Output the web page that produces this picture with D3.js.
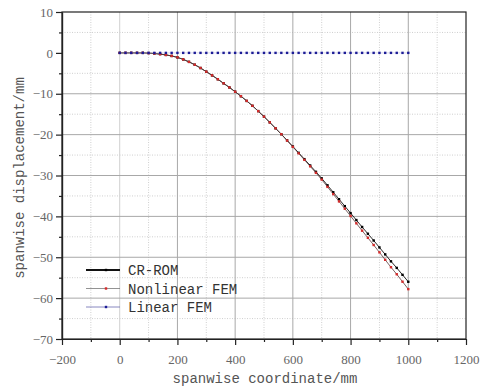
<!DOCTYPE html>
<html>
<head>
<meta charset="utf-8">
<script src="https://cdn.jsdelivr.net/npm/d3@7"></script>
<style>
  body { margin: 0; background: #fff; }
  svg { display: block; }
</style>
</head>
<body>
<div id="chart"></div>
<script>
// spanwise coordinate (mm), one node every 20 mm
var spanX = [0, 20, 40, 60, 80, 100, 120, 140, 160, 180,
    200, 220, 240, 260, 280, 300, 320, 340, 360, 380,
    400, 420, 440, 460, 480, 500, 520, 540, 560, 580,
    600, 620, 640, 660, 680, 700, 720, 740, 760, 780,
    800, 820, 840, 860, 880, 900, 920, 940, 960, 980, 1000];

// displacement (mm)
var crRom = [0, 0, 0, 0, 0, -0.05, -0.15, -0.3, -0.5, -0.75,
    -1.1, -1.6, -2.2, -2.9, -3.7, -4.6, -5.5, -6.45, -7.45, -8.45,
    -9.5, -10.6, -11.75, -12.95, -14.25, -15.6, -17.0, -18.45, -19.9, -21.4,
    -22.9, -24.45, -26.0, -27.55, -29.1, -30.7, -32.4, -34.1, -35.8, -37.5,
    -39.2, -40.9, -42.6, -44.25, -45.9, -47.6, -49.3, -51.0, -52.6, -54.3, -56.0];

var nonlinearFem = [0, 0, 0, 0, 0, -0.05, -0.15, -0.3, -0.5, -0.75,
    -1.1, -1.6, -2.2, -2.9, -3.7, -4.6, -5.5, -6.45, -7.45, -8.45,
    -9.5, -10.6, -11.75, -12.95, -14.25, -15.6, -17.0, -18.45, -19.9, -21.45,
    -23.0, -24.58, -26.17, -27.76, -29.35, -31.0, -32.78, -34.56, -36.34, -38.12,
    -39.9, -41.7, -43.5, -45.25, -47.0, -48.8, -50.62, -52.44, -54.16, -55.98, -57.8];

var linearFem = [0, 0, 0, 0, 0, 0, 0, 0, 0, 0,
    0, 0, 0, 0, 0, 0, 0, 0, 0, 0,
    0, 0, 0, 0, 0, 0, 0, 0, 0, 0,
    0, 0, 0, 0, 0, 0, 0, 0, 0, 0,
    0, 0, 0, 0, 0, 0, 0, 0, 0, 0, 0];

var seriesNames = ["CR-ROM", "Nonlinear FEM", "Linear FEM"];
var xMajorTicks = [-200, 0, 200, 400, 600, 800, 1000, 1200];
var xMinorTicks = [-100, 100, 300, 500, 700, 900, 1100];
var yMajorTicks = [10, 0, -10, -20, -30, -40, -50, -60, -70];
var yMinorTicks = [5, -5, -15, -25, -35, -45, -55, -65];

var serifFont = "'Liberation Serif', 'Times New Roman', serif";
var monoFont = "'Liberation Mono', 'Courier New', monospace";

var width = 483, height = 387;
var margin = {top: 12, right: 17, bottom: 48, left: 62};

var svg = d3.select("#chart").append("svg")
    .attr("width", width)
    .attr("height", height);

var x = d3.scaleLinear().domain([-200, 1200]).range([margin.left, width - margin.right]);
var y = d3.scaleLinear().domain([-70, 10]).range([height - margin.bottom, margin.top]);

var styles = [
    {line: "#111", lineWidth: 0.9, marker: "#000", legendLine: "#111", legendWidth: 2},
    {line: "#5a3a3a", lineWidth: 0.8, marker: "#d42a2a", legendLine: "#777", legendWidth: 0.8},
    {line: "#b8b8dc", lineWidth: 0.5, marker: "#1c1c96", legendLine: "#6a6ab0", legendWidth: 0.8}
];

// grid: dotted minor lines, solid major lines
var grid = svg.append("g").attr("class", "grid");
grid.selectAll(".vminor").data(xMinorTicks).enter().append("line")
    .attr("x1", function(d) { return x(d); }).attr("x2", function(d) { return x(d); })
    .attr("y1", y(10)).attr("y2", y(-70))
    .attr("stroke", "#cfcfcf").attr("stroke-width", 1).attr("stroke-dasharray", "1,1.5");
grid.selectAll(".hminor").data(yMinorTicks).enter().append("line")
    .attr("x1", x(-200)).attr("x2", x(1200))
    .attr("y1", function(d) { return y(d); }).attr("y2", function(d) { return y(d); })
    .attr("stroke", "#cfcfcf").attr("stroke-width", 1).attr("stroke-dasharray", "1,1.5");
grid.selectAll(".vmajor").data(xMajorTicks.slice(1, -1)).enter().append("line")
    .attr("x1", function(d) { return x(d); }).attr("x2", function(d) { return x(d); })
    .attr("y1", y(10)).attr("y2", y(-70))
    .attr("stroke", function(d) { return d === 0 ? "#d0d0d0" : "#a8a8a8"; })
    .attr("stroke-width", 1);
grid.selectAll(".hmajor").data(yMajorTicks.slice(2, -1)).enter().append("line")
    .attr("x1", x(-200)).attr("x2", x(1200))
    .attr("y1", function(d) { return y(d); }).attr("y2", function(d) { return y(d); })
    .attr("stroke", "#a8a8a8").attr("stroke-width", 1);

// frame
svg.append("rect")
    .attr("x", x(-200)).attr("y", y(10))
    .attr("width", x(1200) - x(-200)).attr("height", y(-70) - y(10))
    .attr("fill", "none").attr("stroke", "#222").attr("stroke-width", 1.2);

// axes
var fmt = d3.format("d");
var xAxis = svg.append("g")
    .attr("transform", "translate(0," + y(-70) + ")")
    .call(d3.axisBottom(x).tickValues(xMajorTicks).tickFormat(fmt).tickSize(6).tickPadding(10).tickSizeOuter(0));
var xAxisMinor = svg.append("g")
    .attr("transform", "translate(0," + y(-70) + ")")
    .call(d3.axisBottom(x).tickValues(xMinorTicks).tickSize(3).tickFormat("").tickSizeOuter(0));
var yAxis = svg.append("g")
    .attr("transform", "translate(" + x(-200) + ",0)")
    .call(d3.axisLeft(y).tickValues(yMajorTicks).tickFormat(fmt).tickSize(6).tickPadding(3).tickSizeOuter(0));
var yAxisMinor = svg.append("g")
    .attr("transform", "translate(" + x(-200) + ",0)")
    .call(d3.axisLeft(y).tickValues(yMinorTicks).tickSize(3).tickFormat("").tickSizeOuter(0));

[xAxis, xAxisMinor, yAxis, yAxisMinor].forEach(function(a) {
    a.select(".domain").attr("stroke", "#222").attr("stroke-width", 1.2);
    a.selectAll(".tick line").attr("stroke", "#222").attr("stroke-width", 1.2);
    a.selectAll(".tick text")
        .style("font-family", serifFont)
        .style("font-size", "13px")
        .attr("fill", "#666");
});

// axis titles
svg.append("text")
    .attr("x", 265).attr("y", 383)
    .attr("text-anchor", "middle")
    .style("font-family", monoFont)
    .style("font-size", "14px")
    .attr("fill", "#555")
    .text("spanwise coordinate/mm");
svg.append("text")
    .attr("transform", "translate(24,178) rotate(-90)")
    .attr("text-anchor", "middle")
    .style("font-family", monoFont)
    .style("font-size", "14px")
    .attr("fill", "#555")
    .text("spanwise displacement/mm");

// series
var allSeries = [crRom, nonlinearFem, linearFem].map(function(vals, i) {
    return {
        name: seriesNames[i],
        style: styles[i],
        points: spanX.map(function(sx, j) { return {x: sx, y: vals[j]}; })
    };
});

var line = d3.line()
    .x(function(d) { return x(d.x); })
    .y(function(d) { return y(d.y); });

var seriesG = svg.selectAll(".series").data(allSeries).enter().append("g")
    .attr("class", "series");
seriesG.append("path")
    .attr("d", function(d) { return line(d.points); })
    .attr("fill", "none")
    .attr("stroke", function(d) { return d.style.line; })
    .attr("stroke-width", function(d) { return d.style.lineWidth; });
seriesG.each(function(s) {
    d3.select(this).selectAll("rect").data(s.points).enter().append("rect")
        .attr("x", function(d) { return x(d.x) - 1.2; })
        .attr("y", function(d) { return y(d.y) - 1.2; })
        .attr("width", 2.4).attr("height", 2.4)
        .attr("fill", s.style.marker);
});

// legend
var legend = svg.append("g").attr("transform", "translate(86,270)");
var legendRows = legend.selectAll(".row").data(allSeries).enter().append("g")
    .attr("transform", function(d, i) { return "translate(0," + (i * 18.5) + ")"; });
legendRows.append("line")
    .attr("x1", 0).attr("x2", 34)
    .attr("stroke", function(d) { return d.style.legendLine; })
    .attr("stroke-width", function(d) { return d.style.legendWidth; });
legendRows.append("rect")
    .attr("x", 18.8).attr("y", -1.2).attr("width", 2.4).attr("height", 2.4)
    .attr("fill", function(d) { return d.style.marker; });
legendRows.append("text")
    .attr("x", 42).attr("y", 5)
    .style("font-family", monoFont)
    .style("font-size", "14px")
    .attr("fill", "#333")
    .text(function(d) { return d.name; });
</script>
</body>
</html>
